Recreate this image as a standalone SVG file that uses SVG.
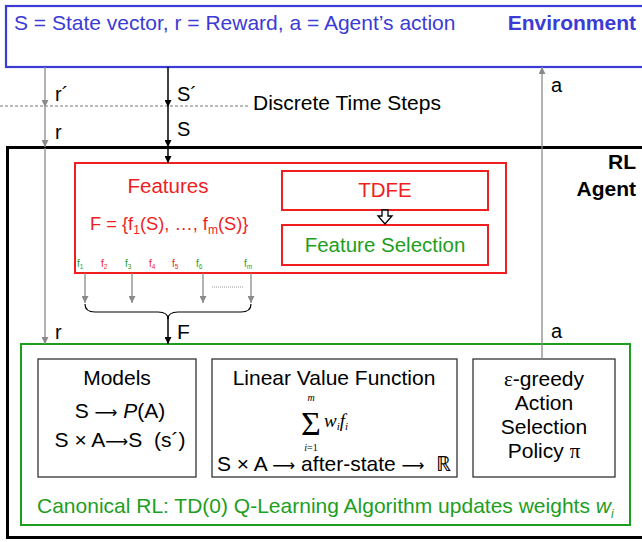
<svg xmlns="http://www.w3.org/2000/svg" width="642" height="542" viewBox="0 0 642 542">
  <style>
    text { font-family: "Liberation Sans", Arial, sans-serif; }
    .env { fill: #3b3bd6; font-size: 21px; }
    .blk { fill: #000; font-size: 20px; }
    .lbl { fill: #000; font-size: 21px; }
    .red { fill: #f01e1e; }
    .grn { fill: #1e9e1e; }
    .gline { stroke: #8a8a8a; stroke-width: 1.3; fill: none; }
    .bline { stroke: #000; stroke-width: 1.5; fill: none; }
    .inner { fill: #fff; stroke: #333; stroke-width: 1.3; }
    .c { text-anchor: middle; }
    .serif { font-family: "Liberation Serif", "Times New Roman", serif; }
    .it { font-style: italic; }
    .arr { font-family: "DejaVu Sans", sans-serif; font-size: 16px; }
  </style>
  <defs>
    <marker id="ah-gray" viewBox="0 0 10 10" refX="10" refY="5" markerWidth="7" markerHeight="7" markerUnits="userSpaceOnUse" orient="auto">
      <path d="M0,0 L10,5 L0,10 Z" fill="#8a8a8a"/>
    </marker>
    <marker id="ah-black" viewBox="0 0 10 10" refX="10" refY="5" markerWidth="7" markerHeight="7" markerUnits="userSpaceOnUse" orient="auto">
      <path d="M0,0 L10,5 L0,10 Z" fill="#000"/>
    </marker>
  </defs>

  <rect width="642" height="542" fill="#fff"/>

  <!-- Environment -->
  <g id="environment">
    <rect x="6" y="6" width="650" height="61" fill="#fff" stroke="#3b3bd6" stroke-width="2.2"/>
    <text class="env" x="14" y="30">S = State vector, r = Reward, a = Agent’s action</text>
    <text class="env" x="636" y="30" text-anchor="end" font-weight="bold">Environment</text>
  </g>

  <!-- Time step divider -->
  <g id="timesteps">
    <line x1="0" y1="106" x2="248" y2="106" stroke="#777" stroke-width="1" stroke-dasharray="3,2"/>
    <text class="lbl" x="253" y="110">Discrete Time Steps</text>
  </g>

  <!-- RL Agent -->
  <g id="agent">
    <rect x="7.5" y="147.5" width="650" height="390" fill="none" stroke="#000" stroke-width="3"/>
    <text class="lbl" x="636" y="169" text-anchor="end" font-weight="bold">RL</text>
    <text class="lbl" x="636" y="196" text-anchor="end" font-weight="bold">Agent</text>
  </g>

  <!-- Features -->
  <g id="features">
    <rect x="75" y="163" width="431" height="110" fill="#fff" stroke="#f01e1e" stroke-width="2"/>
    <text class="red c" x="168" y="193" font-size="20.5">Features</text>
    <text class="red" x="90" y="230" font-size="18.3">F = {f<tspan font-size="12" dy="4">1</tspan><tspan dy="-4">(S), …, f</tspan><tspan font-size="12" dy="4">m</tspan><tspan dy="-4">(S)}</tspan></text>
    <g font-size="10">
      <text class="grn" x="77" y="267">f<tspan font-size="6.5" dy="2">1</tspan></text>
      <text class="red" x="101" y="267">f<tspan font-size="6.5" dy="2">2</tspan></text>
      <text class="grn" x="125" y="267">f<tspan font-size="6.5" dy="2">3</tspan></text>
      <text class="red" x="149" y="267">f<tspan font-size="6.5" dy="2">4</tspan></text>
      <text class="red" x="172" y="267">f<tspan font-size="6.5" dy="2">5</tspan></text>
      <text class="grn" x="196" y="267">f<tspan font-size="6.5" dy="2">6</tspan></text>
      <text class="grn" x="244" y="267">f<tspan font-size="6.5" dy="2">m</tspan></text>
    </g>
  </g>

  <g id="tdfe">
    <rect x="282" y="171" width="206" height="39" fill="#fff" stroke="#f01e1e" stroke-width="2"/>
    <text class="red c" x="385" y="197" font-size="20.5">TDFE</text>
  </g>

  <g id="feature-selection">
    <rect x="282" y="225" width="206" height="40" fill="#fff" stroke="#f01e1e" stroke-width="2"/>
    <text class="grn c" x="385" y="252" font-size="20.5">Feature Selection</text>
  </g>

  <!-- Canonical RL -->
  <g id="canonical-rl">
    <rect x="21" y="344" width="609" height="181" fill="#fff" stroke="#1e9e1e" stroke-width="2"/>
    <text class="grn" x="37" y="513" font-size="21">Canonical RL: TD(0) Q-Learning Algorithm updates weights <tspan class="it">w</tspan><tspan class="it" font-size="12" dy="5">i</tspan></text>
  </g>

  <g id="models">
    <rect class="inner" x="38" y="359" width="158" height="118"/>
    <text class="lbl c" x="117" y="385">Models</text>
    <text class="lbl c" x="120" y="418">S <tspan class="arr">⟶</tspan> <tspan class="it">P</tspan>(A)</text>
    <text class="lbl c" x="120" y="447" font-size="19.5">S × A<tspan class="arr" font-size="15">⟶</tspan>S&#160; (s´)</text>
  </g>

  <g id="value-function">
    <rect class="inner" x="212" y="359" width="245" height="118"/>
    <text class="lbl c" x="334" y="385">Linear Value Function</text>
    <text x="311" y="401" font-size="10" class="serif it c">m</text>
    <text x="311" y="435" font-size="34" class="serif c">Σ</text>
    <text x="311" y="451" font-size="10" class="serif c"><tspan class="it">i</tspan>=1</text>
    <text x="324" y="427" font-size="19" class="serif it">w<tspan font-size="11" dy="3">i</tspan><tspan dy="-3">f</tspan><tspan font-size="11" dy="3">i</tspan></text>
    <text class="lbl c" x="334" y="471">S × A <tspan class="arr">⟶</tspan> after-state <tspan class="arr">⟶</tspan>&#160; ℝ</text>
  </g>

  <g id="policy">
    <rect class="inner" x="473" y="359" width="142" height="118"/>
    <text class="lbl c" x="544" y="386"><tspan class="serif">ε</tspan>-greedy</text>
    <text class="lbl c" x="544" y="410">Action</text>
    <text class="lbl c" x="544" y="434">Selection</text>
    <text class="lbl c" x="544" y="458">Policy <tspan class="serif">π</tspan></text>
  </g>

  <!-- Connectors -->
  <g id="connectors">
    <!-- reward -->
    <line class="gline" x1="45" y1="67" x2="45" y2="107" marker-end="url(#ah-gray)"/>
    <line class="gline" x1="45" y1="107" x2="45" y2="147" marker-end="url(#ah-gray)"/>
    <line class="gline" x1="45" y1="148" x2="45" y2="344" marker-end="url(#ah-gray)"/>
    <text class="blk" x="55" y="101">r´</text>
    <text class="blk" x="55" y="139">r</text>
    <text class="blk" x="55" y="339">r</text>
    <!-- state -->
    <line class="bline" x1="168" y1="67" x2="168" y2="107" marker-end="url(#ah-black)"/>
    <line class="bline" x1="168" y1="107" x2="168" y2="147" marker-end="url(#ah-black)"/>
    <line class="bline" x1="168" y1="148" x2="168" y2="163" marker-end="url(#ah-black)"/>
    <text class="blk" x="177" y="101">S´</text>
    <text class="blk" x="177" y="136">S</text>
    <!-- action -->
    <line class="gline" x1="542" y1="359" x2="542" y2="67" marker-end="url(#ah-gray)"/>
    <text class="blk" x="551" y="92">a</text>
    <text class="blk" x="551" y="338">a</text>
    <!-- TDFE to selection (hollow block arrow) -->
    <path d="M382,210 L388,210 L388,216 L392,216 L385,224 L378,216 L382,216 Z" fill="#fff" stroke="#000" stroke-width="1.3"/>
    <!-- feature outputs -->
    <line class="gline" x1="85" y1="273" x2="85" y2="303" marker-end="url(#ah-gray)"/>
    <line class="gline" x1="132" y1="273" x2="132" y2="303" marker-end="url(#ah-gray)"/>
    <line class="gline" x1="203" y1="273" x2="203" y2="303" marker-end="url(#ah-gray)"/>
    <line class="gline" x1="251" y1="273" x2="251" y2="303" marker-end="url(#ah-gray)"/>
    <line x1="212" y1="287" x2="243" y2="287" stroke="#999" stroke-width="1" stroke-dasharray="1,1"/>
    <!-- brace -->
    <path d="M85,304 Q85,312 95,312 L158,312 Q168,312 168,319 Q168,312 178,312 L241,312 Q251,312 251,304" fill="none" stroke="#000" stroke-width="1.2"/>
    <line class="bline" x1="168" y1="318" x2="168" y2="344" marker-end="url(#ah-black)"/>
    <text class="lbl" x="177" y="339">F</text>
  </g>
</svg>
